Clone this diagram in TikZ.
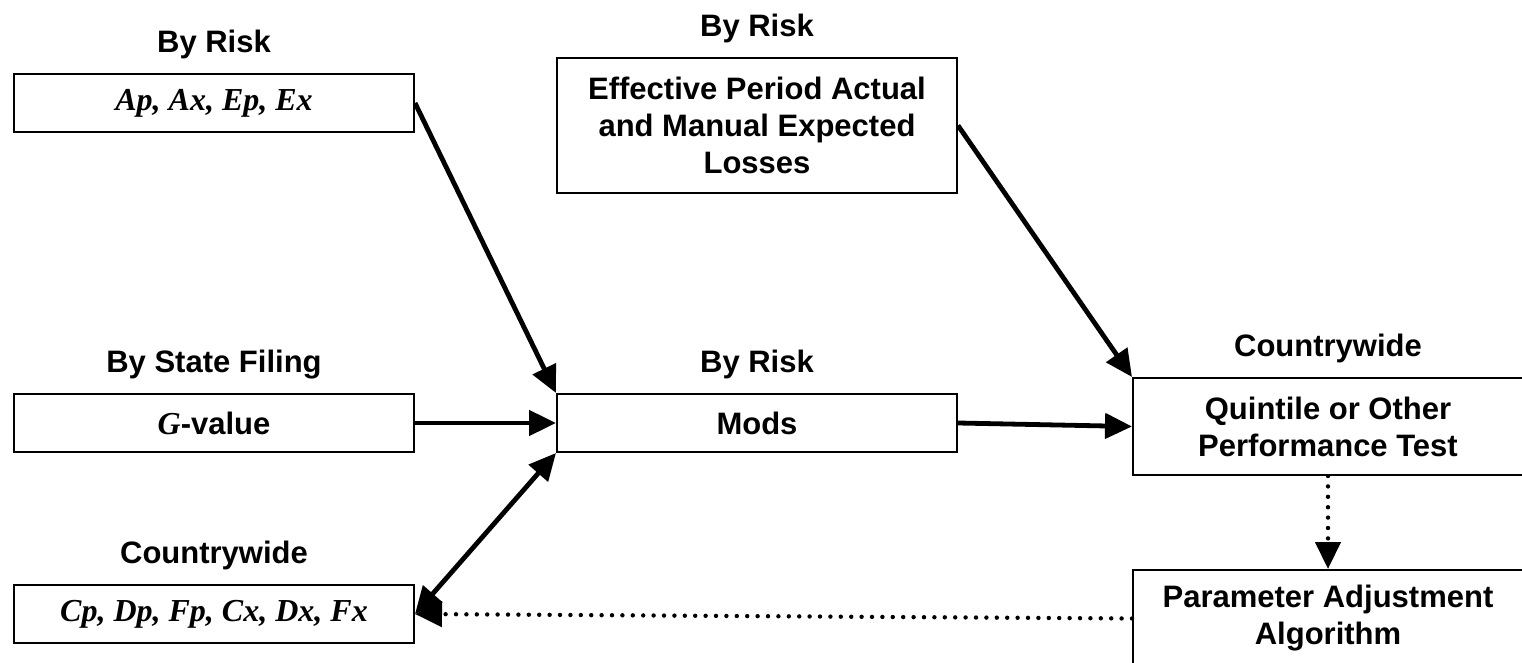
\documentclass[tikz,border=0pt]{standalone}
\usepackage{fontspec}
\setmainfont{Liberation Sans}
\newfontfamily\timesfont{Liberation Serif}
\usetikzlibrary{positioning}
\usetikzlibrary{arrows.meta}

\tikzset{
  box/.style={draw, line width=1pt, rectangle, inner sep=0pt,
    minimum width=200pt, minimum height=29pt, align=center,
    font=\fontsize{15.5}{18.5}\selectfont\bfseries},
  tallbox/.style={box, minimum width=195pt, minimum height=48.5pt},
  head/.style={inner sep=0pt, font=\fontsize{15.5}{18.5}\selectfont\bfseries},
  flow/.style={line width=2.4pt, ->},
  feedback/.style={line width=2.2pt, line cap=round, dash pattern=on 0pt off 5.2pt, ->},
}
\newcommand{\vars}[1]{{\timesfont\bfseries\itshape\fontsize{16}{18}\selectfont #1}}

\begin{document}
\begin{tikzpicture}[x=0.5pt, y=-0.5pt, >={Triangle[length=13.5pt,width=12.5pt]}]

	% page size of the reference (pixel units)
	\useasboundingbox (0,0) rectangle (1522,663);

	% left column: the inputs
	\node[box] (ap)  at (214,103) {\vars{Ap, Ax, Ep, Ex}};
	\node[box] (gv)  at (214,423) {\vars{G}-value};
	\node[box] (cp)  at (214,614) {\vars{Cp, Dp, Fp, Cx, Dx, Fx}};

	% middle column
	\node[box, minimum height=67.5pt] (loss) at (757,125.5)
		{Effective Period Actual\\and Manual Expected\\Losses};
	\node[box] (mods) at (757,423) {Mods};

	% right column: the test and the adjustment
	\node[tallbox] (test)  at (1328,426.5) {Quintile or Other\\Performance Test};
	\node[tallbox] (adjust) at (1328,618.5) {Parameter Adjustment\\Algorithm};

	% headings over the boxes
	\node[head, above=7pt of ap]   (aphead)   {By Risk};
	\node[head, above=7pt of gv]   (gvhead)   {By State Filing};
	\node[head, above=7pt of cp]   (cphead)   {Countrywide};
	\node[head, above=7pt of loss] (losshead) {By Risk};
	\node[head, above=7pt of mods] (modshead) {By Risk};
	\node[head, above=7pt of test] (testhead) {Countrywide};

	% solid flows
	\draw[flow] (ap.east) -- (mods.north west);
	\draw[flow] (gv.east) -- (mods.west);
	\draw[flow, <->] (cp.east) -- (mods.south west);
	\draw[flow] (loss.east) -- (test.north west);
	\draw[flow] (mods.east) -- (test.west);

	% dotted feedback loop
	\draw[feedback] (test.south) -- (adjust.north);
	\draw[feedback] (adjust.west) -- (cp.east);

\end{tikzpicture}
\end{document}
